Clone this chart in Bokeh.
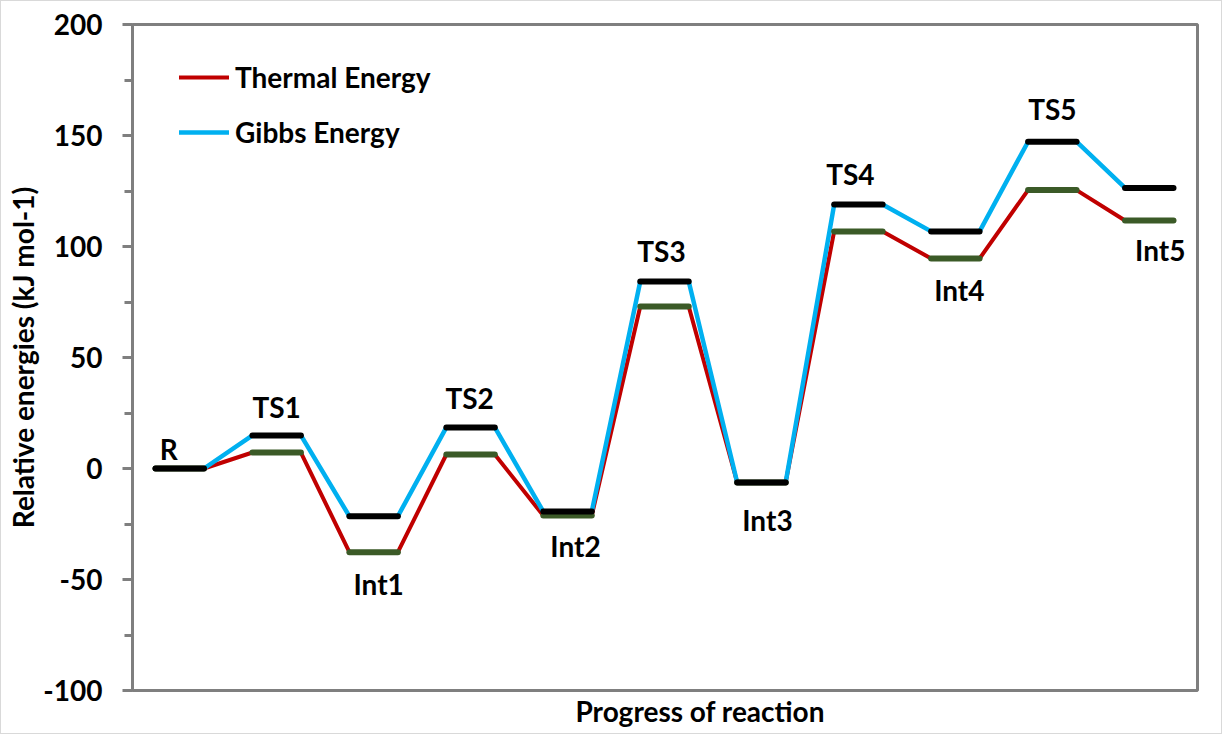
from bokeh.plotting import figure
from bokeh.models import (Range1d, Legend, LegendItem, Title, ColumnDataSource,
                          FixedTicker, CustomJSTickFormatter)
from bokeh.core.properties import value
from bokeh.embed import file_html
from bokeh.resources import INLINE

# ---- data ----
states = ["R", "TS1", "Int1", "TS2", "Int2", "TS3", "Int3", "TS4", "Int4", "TS5", "Int5"]
gibbs = [0, 14.9, -21.5, 18.5, -19.4, 84.2, -6.3, 118.9, 106.8, 147.2, 126.4]
thermal = [0, 7.2, -37.7, 6.3, -21.2, 73.0, -6.3, 106.8, 94.6, 125.4, 111.7]
y_ticks = [-100, -50, 0, 50, 100, 150, 200]
series_names = ["Thermal Energy", "Gibbs Energy"]
x_title = "Progress of reaction"
y_title = "Relative energies (kJ mol-1)"

# ---- styles ----
FONT = "Lato"
FS = "28px"
GRAY = "#7f7f7f"
RED = "#c00000"
BLUE = "#00b0f0"
GREEN = "#3b5a27"
label_dx = [-11, 0, 5, -1, 8, -3, 6, -8, 4, 0, 11]
label_dy = [-20, -28, 32, -29, 30, -31, 38, -31, 32, -33, 29]

# stepped path: plateau i spans [2i, 2i+1]
def stepped(vals):
    xs, ys = [], []
    for i, v in enumerate(vals):
        xs += [2 * i, 2 * i + 1]
        ys += [v, v]
    return xs, ys

p = figure(width=1222, height=734, output_backend="svg", toolbar_location=None,
           x_range=Range1d(-0.474, 21.495), y_range=Range1d(-100, 200),
           min_border_left=131, min_border_right=26, min_border_top=23, min_border_bottom=45)
p.styles = {"border": "1px solid #d9d9d9"}
p.xgrid.visible = False
p.ygrid.visible = False
p.outline_line_color = GRAY
p.outline_line_width = 3
p.background_fill_color = "white"
p.border_fill_color = "white"

tx, ty = stepped(thermal)
gx, gy = stepped(gibbs)
r_red = p.line(tx, ty, line_color=RED, line_width=4, line_cap="round")
r_blue = p.line(gx, gy, line_color=BLUE, line_width=4.5, line_cap="round")

xs_seg = [[2 * i, 2 * i + 1] for i in range(len(states))]
p.multi_line(xs_seg, [[v, v] for v in thermal], line_color=GREEN, line_width=6, line_cap="round")
p.multi_line(xs_seg, [[v, v] for v in gibbs], line_color="black", line_width=6, line_cap="round")

# state labels
above = [s == "R" or s.startswith("TS") for s in states]
base = [max(g, t) if a else min(g, t) for g, t, a in zip(gibbs, thermal, above)]
src = ColumnDataSource(dict(x=[2 * i + 0.5 for i in range(len(states))], y=base, text=states,
                            dx=label_dx, dy=label_dy))
p.text(x="x", y="y", text="text", x_offset="dx", y_offset="dy", source=src,
       text_font=value(FONT), text_font_style="bold", text_font_size=FS,
       text_align="center", text_baseline="middle", text_color="black")

# axes
p.xaxis.visible = False
ax = p.yaxis[0]
ax.ticker = FixedTicker(ticks=y_ticks,
                        minor_ticks=[(a + b) / 2 for a, b in zip(y_ticks[:-1], y_ticks[1:])])
ax.formatter = CustomJSTickFormatter(code="return String(tick);")
ax.axis_line_color = GRAY
ax.axis_line_width = 3
ax.major_tick_line_color = GRAY
ax.major_tick_line_width = 3
ax.major_tick_in = 0
ax.major_tick_out = 10
ax.minor_tick_line_color = GRAY
ax.minor_tick_line_width = 3
ax.minor_tick_in = 0
ax.minor_tick_out = 8
ax.major_label_standoff = 20
ax.major_label_text_font = FONT
ax.major_label_text_font_style = "bold"
ax.major_label_text_font_size = FS
ax.major_label_text_color = "black"
ax.axis_label = y_title
ax.axis_label_text_font = FONT
ax.axis_label_text_font_style = "bold"
ax.axis_label_text_font_size = FS
ax.axis_label_text_color = "black"
ax.axis_label_standoff = 0

p.add_layout(Title(text=x_title, align="left", offset=443, standoff=2,
                   text_font=FONT, text_font_style="bold", text_font_size=FS,
                   text_color="black"), "below")

legend = Legend(items=[LegendItem(label=series_names[0], renderers=[r_red]),
                       LegendItem(label=series_names[1], renderers=[r_blue])],
                location=(47, 541))
legend.border_line_color = None
legend.background_fill_alpha = 0
legend.padding = 0
legend.margin = 0
legend.spacing = 21
legend.glyph_width = 50
legend.glyph_height = 34
legend.label_height = 34
legend.label_standoff = 6
legend.label_text_font = FONT
legend.label_text_font_style = "bold"
legend.label_text_font_size = FS
legend.label_text_color = "black"
p.add_layout(legend)

open("out.html", "w").write(file_html(p, INLINE))
